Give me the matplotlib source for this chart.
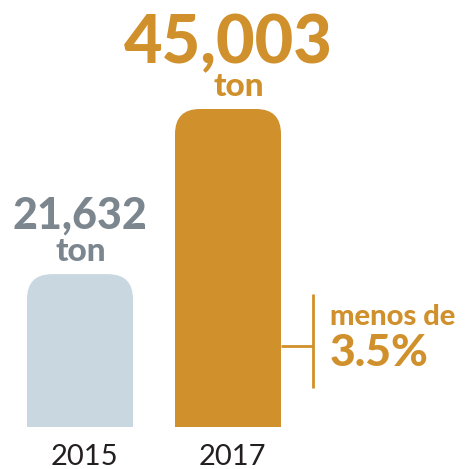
import matplotlib.pyplot as plt
from matplotlib.patches import FancyBboxPatch

years = ['2015', '2017']
tons = [21632, 45003]
value_labels = ['21,632', '45,003']
bar_colors = ['#c9d7e1', '#d0902b']
text_colors = ['#7b868f', '#d0902b']

note_top = 'menos de'
note_big = '3.5%'

plt.rcParams['font.family'] = ['Lato', 'DejaVu Sans']

W = H = 4.69
fig = plt.figure(figsize=(W, H), dpi=100)
ax = fig.add_axes([0, 42 / 469, 1, 1 - 42 / 469])
ax.set_axis_off()

# 148 px between bar centres, bars 106 px wide
xunit = 148.0
ax.set_xlim(-80 / xunit, (469 - 80) / xunit)
ymax = tons[1] * 427 / 318
ax.set_ylim(0, ymax)
yunit = ymax / 427.0  # tons per pixel

bw = 106 / xunit
r = 25 / xunit
for i, (v, c) in enumerate(zip(tons, bar_colors)):
    box = FancyBboxPatch((i - bw / 2, -ymax), bw, v + ymax,
                         boxstyle=f'round,pad=0,rounding_size={r}',
                         mutation_aspect=yunit * xunit,
                         fc=c, ec='none', clip_on=True)
    ax.add_patch(box)

sizes = [31, 48]
ton_dx = [1, 11]  # keep "ton" clear of the comma
for i, (v, lab, tc) in enumerate(zip(tons, value_labels, text_colors)):
    ax.annotate(lab, (i, v), xytext=(0, 46 * 0.72), textcoords='offset points',
                ha='center', va='baseline', fontsize=sizes[i], fontweight='black',
                color=tc)
    ax.annotate('ton', (i, v), xytext=(ton_dx[i] * 0.72, 13 * 0.72),
                textcoords='offset points',
                ha='center', va='baseline', fontsize=24, fontweight='black',
                color=tc)
    ax.annotate(years[i], (i, 0), xytext=(3, -38 * 0.72), textcoords='offset points',
                ha='center', va='baseline', fontsize=21, color='#231f20')

# bracket to the right of the 2017 bar
bx = 1 + 85 / xunit
ax.plot([bx, bx], [(427 - 294) * yunit, (427 - 388) * yunit],
        color=bar_colors[1], lw=2, solid_capstyle='butt')
ax.plot([1 + bw / 2, bx], [(427 - 346) * yunit] * 2,
        color=bar_colors[1], lw=2, solid_capstyle='butt')

tx = 1 + 102 / xunit
ax.text(tx, (427 - 325) * yunit, note_top, ha='left', va='baseline',
        fontsize=21, fontweight='black', color=bar_colors[1])
ax.text(tx, (427 - 366) * yunit, note_big, ha='left', va='baseline',
        fontsize=32, fontweight='black', color=bar_colors[1])

fig.savefig('out.png', dpi=100)
